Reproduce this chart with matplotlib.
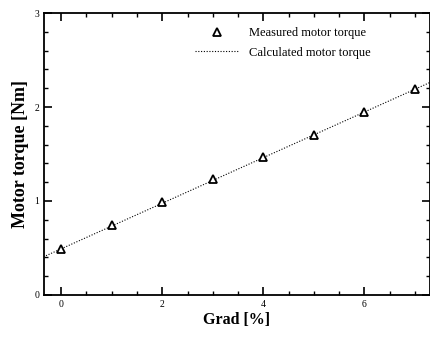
import matplotlib
matplotlib.use("Agg")
import matplotlib.pyplot as plt
from matplotlib.ticker import MultipleLocator, FixedLocator
import numpy as np

grad = [0, 1, 2, 3, 4, 5, 6, 7]
measured = [0.49, 0.74, 0.99, 1.23, 1.47, 1.70, 1.95, 2.19]
calc_x = [-0.35, 7.35]
calc_y = [0.405, 2.275]

plt.rcParams['font.family'] = ['Liberation Serif', 'DejaVu Serif']
fig = plt.figure(figsize=(4.31, 3.37), dpi=100)
ax = fig.add_axes([0.102, 0.125, 0.896, 0.836])

ax.plot(calc_x, calc_y, linestyle=(0, (1, 1.5)), color='black', linewidth=0.8,
        label='Calculated motor torque')
ax.plot(grad, measured, linestyle='none', marker='^', markersize=6,
        markerfacecolor='white', markeredgecolor='black', markeredgewidth=1.3,
        label='Measured motor torque')

ax.set_xlim(-0.34, 7.3)
ax.set_ylim(0, 3)
ax.xaxis.set_major_locator(FixedLocator([0, 2, 4, 6]))
ax.xaxis.set_minor_locator(MultipleLocator(0.5))
ax.yaxis.set_major_locator(MultipleLocator(1))
ax.yaxis.set_minor_locator(MultipleLocator(0.2))
ax.tick_params(which='both', direction='in', top=True, right=True, labelsize=7)
ax.tick_params(which='major', length=6, width=1.2)
ax.tick_params(which='minor', length=3, width=1)
for s in ax.spines.values():
    s.set_linewidth(1.3)

ax.set_xlabel('Grad [%]', fontsize=11.5, fontweight='bold', labelpad=2)
ax.set_ylabel('Motor torque [Nm]', fontsize=13, fontweight='bold', labelpad=4)

h, l = ax.get_legend_handles_labels()
ax.legend([h[1], h[0]], [l[1], l[0]], loc='upper left', frameon=False,
          fontsize=9, handlelength=3.5, handletextpad=0.8, labelspacing=0.6,
          borderaxespad=0, bbox_to_anchor=(0.378, 0.968))

fig.savefig('out.png', dpi=100)
